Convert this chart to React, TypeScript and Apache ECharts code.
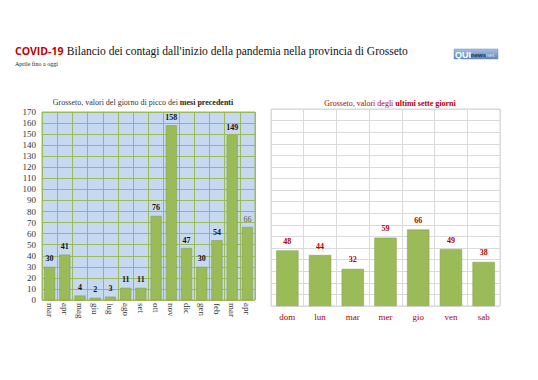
import React, { useEffect, useRef } from "react";
import * as echarts from "echarts";

const monthCats = ["mar", "apr", "mag", "giu", "lug", "ago", "set", "ott", "nov", "dic", "gen", "feb", "mar", "apr"];
const monthVals = [30, 41, 4, 2, 3, 11, 11, 76, 158, 47, 30, 54, 149, 66];
const dayCats = ["dom", "lun", "mar", "mer", "gio", "ven", "sab"];
const dayVals = [48, 44, 32, 59, 66, 49, 38];

const SERIF = "'Liberation Serif', 'DejaVu Serif', serif";
const SANS = "'Liberation Sans', 'DejaVu Sans', sans-serif";

export default function App() {
  const ref = useRef<HTMLDivElement>(null);
  useEffect(() => {
    const chart = echarts.init(ref.current!, null, { renderer: "svg" });
    const green = "#9bbb59";
    const lastIdx = monthVals.length - 1;
    const monthData = monthVals.map((v, i) =>
      i === lastIdx
        ? { value: v, label: { fontWeight: "normal", color: "#555555" } }
        : v
    );
    chart.setOption({
      animation: false,
      backgroundColor: "#ffffff",
      textStyle: { fontFamily: SERIF },
      title: [
        {
          text: "{r|Grosseto, valori del giorno di picco dei }{b|mesi precedenti}",
          left: 138, top: 93, textAlign: "center",
          textStyle: {
            fontWeight: "normal",
            rich: {
              r: { fontFamily: SERIF, fontSize: 8, fontWeight: "normal", color: "#333333" },
              b: { fontFamily: SERIF, fontSize: 8, fontWeight: "bold", color: "#222222" },
            },
          },
        },
        {
          text: "{r|Grosseto, valori degli }{b|ultimi sette giorni}",
          left: 385, top: 94, textAlign: "center",
          textStyle: {
            fontWeight: "normal",
            rich: {
              r: { fontFamily: SERIF, fontSize: 8, fontWeight: "normal", color: "#b00000" },
              b: { fontFamily: SERIF, fontSize: 8, fontWeight: "bold", color: "#b00000" },
            },
          },
        },
      ],
      graphic: [
        {
          type: "text", left: 15, top: 45,
          style: {
            text: "{c|COVID-19} {t|Bilancio dei contagi dall'inizio della pandemia nella provincia di Grosseto}",
            rich: {
              c: { fontFamily: "'Open Sans', 'Liberation Sans', sans-serif", fontWeight: "bold", fontSize: 10.5, fill: "#c00000" },
              t: { fontFamily: SERIF, fontSize: 11.5, fill: "#111111" },
            },
          },
        },
        {
          type: "text", left: 15, top: 61,
          style: { text: "Aprile fino a oggi", font: "6px " + SERIF, fill: "#222222" },
        },
        {
          type: "rect", shape: { x: 454, y: 49, width: 44, height: 10 },
          style: {
            fill: new echarts.graphic.LinearGradient(0, 0, 0, 1, [
              { offset: 0, color: "#a9c2e0" },
              { offset: 1, color: "#5d83b8" },
            ]),
            stroke: "#6f8fbf", lineWidth: 0.5,
          },
        },
        {
          type: "text", left: 455, top: 50,
          style: {
            text: "{q|QUI}{n|news}{t|net}",
            rich: {
              q: { fontFamily: SANS, fontWeight: "bold", fontSize: 9, fill: "#ffffff" },
              n: { fontFamily: SANS, fontWeight: "bold", fontSize: 6, fill: "#1d2f55" },
              t: { fontFamily: SANS, fontSize: 6, fill: "#d6e2f3" },
            },
          },
        },
      ],
      grid: [
        { left: 42, right: 283, top: 112, bottom: 80, show: true, backgroundColor: "#c6d9f1", borderColor: green, borderWidth: 1 },
        { left: 271, right: 38, top: 109, bottom: 74, show: true, backgroundColor: "#ffffff", borderColor: "#d6d6d6", borderWidth: 1 },
      ],
      xAxis: [
        {
          type: "category", gridIndex: 0, data: monthCats,
          axisLine: { show: false }, axisTick: { show: false },
          splitLine: { show: true, interval: 0, lineStyle: { color: green, width: 1 } },
          axisLabel: { rotate: -90, interval: 0, fontFamily: SERIF, fontSize: 9, color: "#333333", margin: 3 },
        },
        {
          type: "category", gridIndex: 1, data: dayCats,
          axisLine: { show: false }, axisTick: { show: false },
          splitLine: { show: true, interval: 0, lineStyle: { color: "#dadada", width: 1 } },
          axisLabel: { interval: 0, fontFamily: SERIF, fontSize: 9, color: "#b00000", margin: 6 },
        },
      ],
      yAxis: [
        {
          type: "value", gridIndex: 0, min: 0, max: 170, interval: 10,
          axisLine: { show: false }, axisTick: { show: false },
          splitLine: { lineStyle: { color: green, width: 1 } },
          axisLabel: { fontFamily: SERIF, fontSize: 9, color: "#333333", margin: 6 },
        },
        {
          type: "value", gridIndex: 1, min: 0, max: 170, interval: 10,
          axisLine: { show: false }, axisTick: { show: false },
          splitLine: { lineStyle: { color: "#dadada", width: 1 } },
          axisLabel: { show: false },
        },
      ],
      series: [
        {
          type: "bar", xAxisIndex: 0, yAxisIndex: 0, data: monthData, barWidth: "72%",
          itemStyle: { color: green, borderColor: "#7f9a48", borderWidth: 0.5 },
          label: { show: true, position: "top", distance: 4, fontFamily: SERIF, fontSize: 8, fontWeight: "bold", color: "#111111" },
        },
        {
          type: "bar", xAxisIndex: 1, yAxisIndex: 1, data: dayVals, barWidth: "68%",
          itemStyle: { color: green, borderColor: "#7f9a48", borderWidth: 0.5 },
          label: { show: true, position: "top", distance: 5, fontFamily: SERIF, fontSize: 8, fontWeight: "bold", color: "#b00000" },
        },
      ],
    });
    return () => chart.dispose();
  }, []);
  return <div ref={ref} style={{ position: "absolute", left: 0, top: 0, width: 538, height: 380 }} />;
}
